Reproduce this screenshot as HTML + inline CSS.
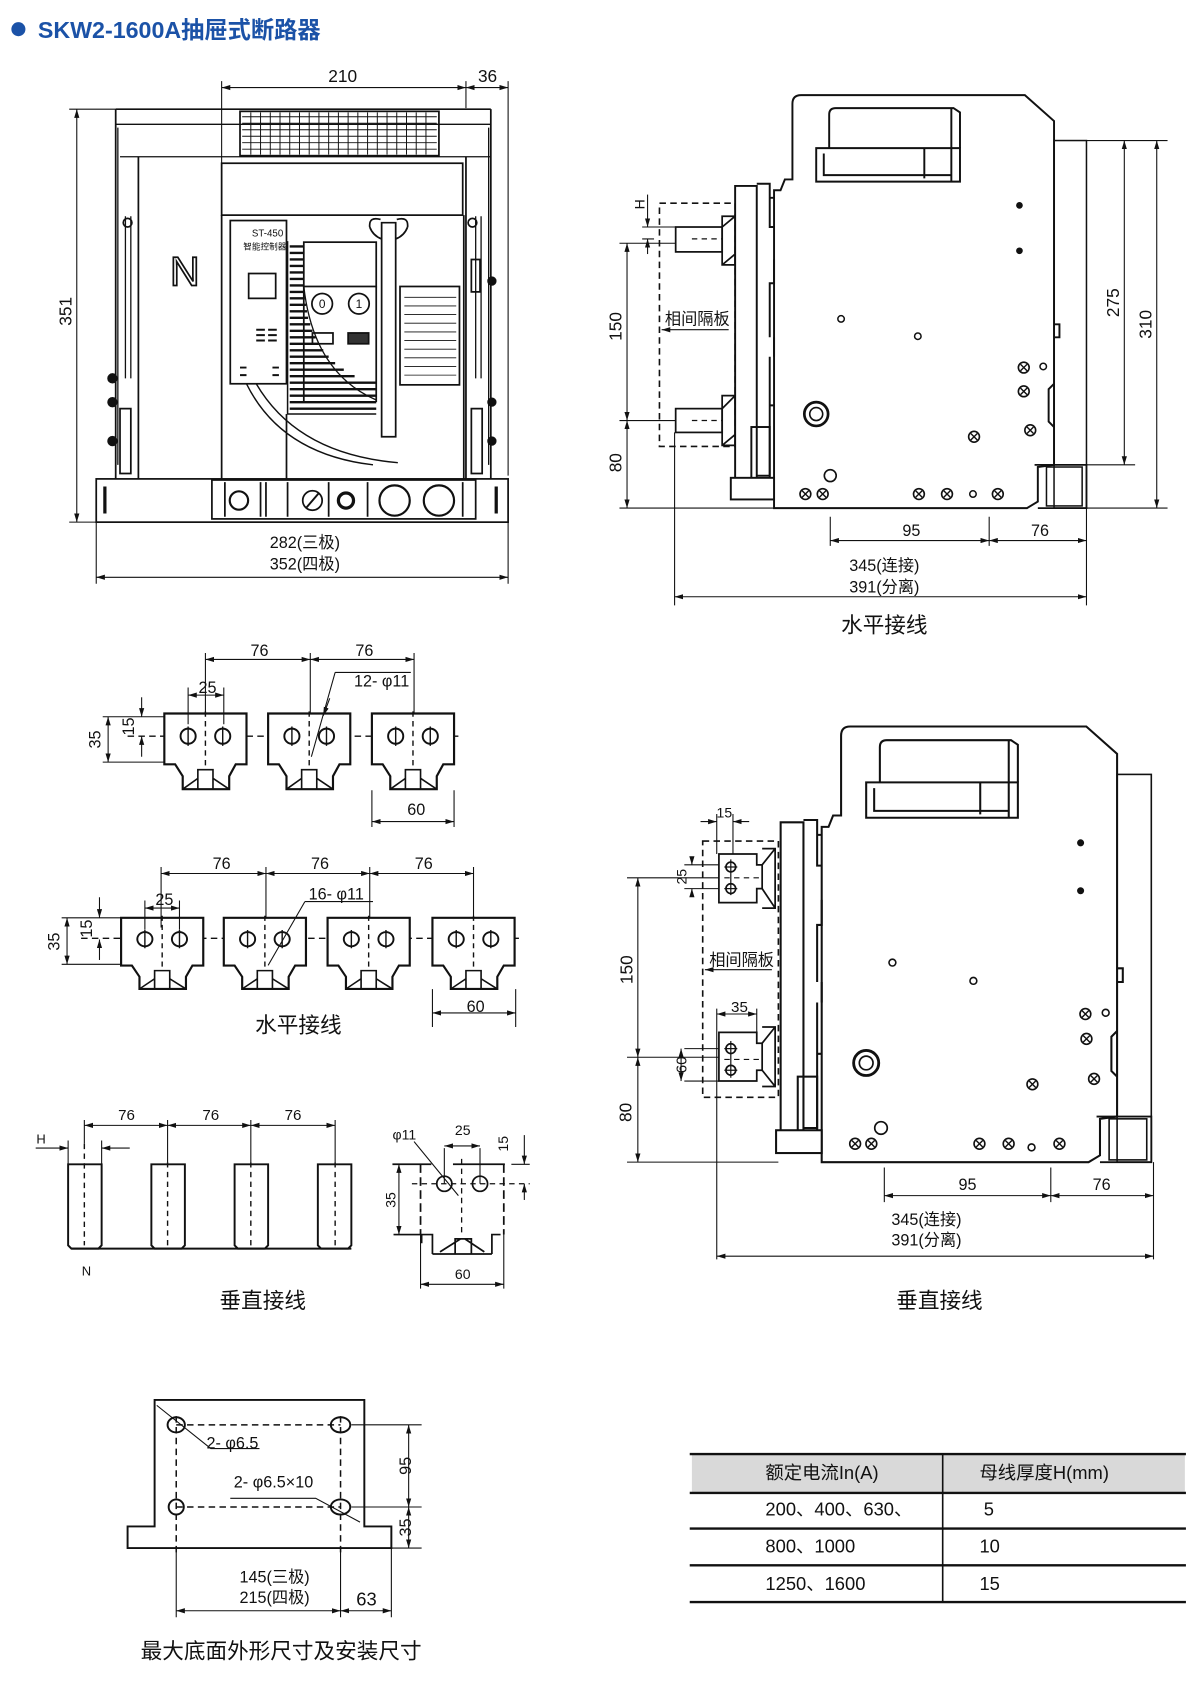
<!DOCTYPE html>
<html><head><meta charset="utf-8"><style>
html,body{margin:0;padding:0;background:#fff}
svg{display:block}
text{font-family:"Liberation Sans","Noto Sans CJK SC",sans-serif;fill:#111}
</style></head><body>
<svg width="1200" height="1698" viewBox="0 0 1110 1570.7" xmlns="http://www.w3.org/2000/svg">
<defs>
<marker id="a" viewBox="0 0 10 6" refX="10" refY="3" markerWidth="8" markerHeight="5" orient="auto-start-reverse" markerUnits="userSpaceOnUse"><path d="M0,0 L10,3 L0,6 Z" fill="#111"/></marker>
<g id="pc">
 <path d="M0,0 H76 V47 H66 L60,58 V70 H17 V58 L10,47 H0 Z" fill="#fff" stroke="#111" stroke-width="2"/>
 <path d="M31,70 V52 H45 V70 M17,70 L31,60 M60,70 L45,60" fill="none" stroke="#111" stroke-width="1.5"/>
 <line x1="38" y1="-2" x2="38" y2="52" stroke="#111" stroke-width="1.3" stroke-dasharray="5,4"/>
 <circle cx="22" cy="21" r="7" fill="none" stroke="#111" stroke-width="1.8"/>
 <circle cx="54" cy="21" r="7" fill="none" stroke="#111" stroke-width="1.8"/>
 <path d="M22,12 V30 M54,12 V30" stroke="#111" stroke-width="1.3"/>
</g>
<g id="sx"><circle r="5" fill="#fff" stroke="#111" stroke-width="1.5"/><path d="M-3,-3 L3,3 M3,-3 L-3,3" stroke="#111" stroke-width="1.3"/></g>
<g id="sb" fill="none" stroke="#111" stroke-width="1.8">
 <path d="M716,470 V176 H722 L726,166 H733 V96 Q733,88 741,88 H948 L975,112 V430 L960,432 V464 L950,470 Z" fill="#fff"/>
 <rect x="975" y="130" width="30" height="340" stroke-width="1.4"/>
 <path d="M957,430 H1005 V470 H960" stroke-width="1.6"/>
 <rect x="968" y="432" width="33" height="36" stroke-width="1.4"/>
 <path d="M767,137 V106 Q767,100 773,100 H882 L888,104 V137" fill="#fff"/>
 <path d="M755,168 V137 H888 V168 Z" fill="#fff"/>
 <path d="M762,142 V162 H880 M855,137 V165 M880,100 V168"/>
 <path d="M680,172 H700 V445 H680 Z" fill="#fff"/>
 <path d="M700,170 H712 V183 H716 M712,183 V210 H716 M716,240 V262 H712 V312 M716,312 V330 M712,330 V375 H716 M712,375 V440 H700"/>
 <rect x="695" y="395" width="17" height="48"/>
 <rect x="676" y="442" width="40" height="20" fill="#fff"/>
 <circle cx="943" cy="190" r="2.2" fill="#111"/><circle cx="943" cy="232" r="2.2" fill="#111"/>
 <circle cx="778" cy="295" r="3" stroke-width="1.4"/><circle cx="849" cy="311" r="3" stroke-width="1.4"/>
 <circle cx="965" cy="339" r="3" stroke-width="1.4"/>
 <circle cx="768" cy="440" r="5.5" stroke-width="1.5"/>
 <circle cx="755" cy="383" r="11" stroke-width="2.5"/><circle cx="755" cy="383" r="6" stroke-width="1.5"/>
 <circle cx="900" cy="457" r="3" stroke-width="1.4"/>
 <path d="M975,355 L970,360 V390 L975,395 M975,300 h5 v12 h-5"/>
</g>
</defs>

<!-- Title -->
<circle cx="17" cy="27" r="6.5" fill="#1b52a7"/>
<text x="35" y="35" font-size="21.5" font-weight="bold" style="fill:#1b52a7">SKW2-1600A抽屉式断路器</text>

<!-- ===== FRONT VIEW ===== -->
<g fill="none" stroke="#111" stroke-width="1.6">
 <rect x="89" y="443" width="381" height="40" fill="#fff"/>
 <path d="M107,101 H454 M107,101 V443 M454,101 V443 M128,145 V443 M431,145 V443"/>
 <path d="M107,115 H454 M111,145 H454 M109,118 V430 M452,118 V430" stroke-width="1.2"/>
 <rect x="222" y="103" width="184" height="41" stroke-width="1.6"/>
 <g stroke-width="0.9">
  <path d="M224,108 H404 M224,114 H404 M224,120 H404 M224,126 H404 M224,132 H404 M224,138 H404"/>
  <path d="M232,104 V143 M241,104 V143 M250,104 V143 M259,104 V143 M268,104 V143 M277,104 V143 M286,104 V143 M295,104 V143 M304,104 V143 M313,104 V143 M322,104 V143 M331,104 V143 M340,104 V143 M349,104 V143 M358,104 V143 M367,104 V143 M376,104 V143 M385,104 V143 M394,104 V143"/>
 </g>
 <rect x="205" y="151" width="223" height="48"/>
 <path d="M205,199 V443 M429,199 V443"/>
 <rect x="213" y="204" width="52" height="151"/>
 <rect x="230" y="253" width="25" height="23"/>
 <path d="M237,305 h8 M248,305 h8 M237,310 h8 M248,310 h8 M237,315 h8 M248,315 h8 M222,340 h6 M252,340 h6 M222,347 h6 M252,347 h6" stroke-width="1.8"/>
 <rect x="281" y="224" width="67" height="41"/>
 <path d="M281,265 V372 M348,265 V372"/>
 <path d="M266,223 V383 H348" stroke-width="1.4"/>
 <path d="M268,228 h13 M268,234 h13 M268,240 h13 M268,246 h13 M268,252 h13 M268,258 h13 M268,264 h13 M268,270 h14 M268,276 h14 M268,282 h15 M268,288 h16 M268,294 h17 M268,300 h19 M268,306 h21 M268,312 h24 M268,318 h27 M268,324 h31 M268,330 h36 M268,336 h42 M268,342 h50 M268,348 h60 M268,354 h80 M268,360 h80 M268,366 h80 M268,372 h80 M268,378 h80" stroke-width="2.2"/>
 <path d="M281,265 Q290,345 348,370" stroke-width="1.2"/>
 <circle cx="298" cy="281" r="9.5"/><circle cx="332" cy="281" r="9.5"/>
 <rect x="289" y="308" width="19" height="10"/>
 <rect x="322" y="308" width="19" height="10" fill="#333"/>
 <path d="M353,206 H366 V404 H353 Z" fill="#fff"/>
 <path d="M342,210 Q341,200 352,203 M377,210 Q378,200 367,203 M342,210 Q345,218 353,221 M377,210 Q374,218 366,221"/>
 <rect x="370" y="265" width="55" height="91"/>
 <g stroke-width="0.8"><path d="M374,275 h48 M374,283 h48 M374,291 h48 M374,299 h48 M374,307 h48 M374,315 h48 M374,323 h48 M374,331 h48 M374,339 h48 M374,347 h48"/></g>
 <path d="M228,355 Q260,420 345,430" stroke-width="1.3"/>
 <path d="M237,355 Q275,420 368,428" stroke-width="1.3"/>
 <path d="M265,383 V443" />
 <rect x="196" y="444" width="244" height="36" fill="#fff"/>
 <path d="M208,446 V478 M241,446 V478 M246,446 V478 M266,446 V478 M304,446 V478 M340,446 V478 M428,446 V478"/>
 <circle cx="221" cy="463" r="8.5" stroke-width="2"/>
 <circle cx="289" cy="463" r="9" stroke-width="1.6"/><path d="M283,470 L295,456" stroke-width="1.8"/>
 <circle cx="320" cy="463" r="7" stroke-width="3"/>
 <circle cx="365" cy="463" r="14" stroke-width="2"/><circle cx="406" cy="463" r="14" stroke-width="2"/>
 <path d="M97,450 V475 M459,450 V475" stroke-width="3"/>
 <path d="M116,200 v150 M121,200 v150 M440,200 v150 M445,200 v150" stroke-width="1.2"/>
 <circle cx="118" cy="206" r="4"/><circle cx="437" cy="206" r="4"/>
 <circle cx="104" cy="350" r="4" fill="#111"/><circle cx="104" cy="372" r="4" fill="#111"/><circle cx="104" cy="408" r="4" fill="#111"/>
 <circle cx="455" cy="260" r="3.5" fill="#111"/><circle cx="455" cy="372" r="3.5" fill="#111"/><circle cx="455" cy="408" r="3.5" fill="#111"/>
 <path d="M111,378 h10 v60 h-10 Z M436,378 h10 v60 h-10 Z M436,240 h8 v30 h-8 Z"/>
</g>
<text x="171" y="264" font-size="38" text-anchor="middle" style="fill:#fff;stroke:#111;stroke-width:1.6">N</text>
<text x="233" y="219" font-size="9">ST-450</text>
<text x="225" y="231" font-size="8">智能控制器</text>
<text x="298" y="285" font-size="11" text-anchor="middle">0</text>
<text x="332" y="285" font-size="11" text-anchor="middle">1</text>
<!-- front dims -->
<g stroke="#111" stroke-width="1" fill="none">
 <path d="M205,75 V200 M431,75 V100 M470,75 V440 M64,101 H107 M64,483 H90 M89,483 V540 M470,483 V540"/>
 <line x1="205" y1="81" x2="431" y2="81" marker-start="url(#a)" marker-end="url(#a)"/>
 <line x1="431" y1="81" x2="470" y2="81" marker-start="url(#a)" marker-end="url(#a)"/>
 <line x1="71" y1="101" x2="71" y2="483" marker-start="url(#a)" marker-end="url(#a)"/>
 <line x1="89" y1="534" x2="470" y2="534" marker-start="url(#a)" marker-end="url(#a)"/>
</g>
<text x="317" y="76" font-size="16" text-anchor="middle">210</text>
<text x="451" y="76" font-size="16" text-anchor="middle">36</text>
<text x="66" y="288" font-size="16" text-anchor="middle" transform="rotate(-90 66 288)">351</text>
<text x="282" y="507" font-size="15" text-anchor="middle">282(三极)</text>
<text x="282" y="527" font-size="15" text-anchor="middle">352(四极)</text>

<!-- ===== SIDE VIEW TOP ===== -->
<use href="#sb"/>
<g fill="none" stroke="#111" stroke-width="1.6">
 <rect x="625" y="210" width="43" height="23" fill="#fff"/>
 <rect x="625" y="378" width="43" height="22" fill="#fff"/>
 <path d="M668,200 H680 V245 H668 Z M668,366 H680 V412 H668 Z M668,210 L680,200 M668,245 L680,235 M668,378 L680,366 M668,412 L680,402"/>
 <path d="M640,221 H668 M640,389 H668" stroke-dasharray="5,4" stroke-width="1.2"/>
 <rect x="610" y="188" width="70" height="225" stroke-dasharray="6,4" stroke-width="1.5"/>
</g>
<use href="#sx" x="745" y="457"/><use href="#sx" x="761" y="457"/><use href="#sx" x="850" y="457"/><use href="#sx" x="876" y="457"/><use href="#sx" x="923" y="457"/>
<use href="#sx" x="947" y="340"/><use href="#sx" x="947" y="362"/><use href="#sx" x="953" y="398"/><use href="#sx" x="901" y="404"/>
<g stroke="#111" stroke-width="1" fill="none">
 <path d="M573,225 H625 M573,389 H625 M573,470 H716 M594,210 H625 M594,221 H605 M1005,130 H1080 M975,430 H1050 M1005,470 H1080 M768,478 V505 M915,478 V505 M1005,470 V560 M624,400 V560"/>
 <line x1="599" y1="180" x2="599" y2="210" marker-end="url(#a)"/>
 <line x1="599" y1="235" x2="599" y2="221" marker-end="url(#a)"/>
 <line x1="580" y1="225" x2="580" y2="389" marker-start="url(#a)" marker-end="url(#a)"/>
 <line x1="580" y1="389" x2="580" y2="470" marker-start="url(#a)" marker-end="url(#a)"/>
 <line x1="1040" y1="130" x2="1040" y2="430" marker-start="url(#a)" marker-end="url(#a)"/>
 <line x1="1070" y1="130" x2="1070" y2="470" marker-start="url(#a)" marker-end="url(#a)"/>
 <line x1="768" y1="500" x2="915" y2="500" marker-start="url(#a)" marker-end="url(#a)"/>
 <line x1="915" y1="500" x2="1005" y2="500" marker-start="url(#a)" marker-end="url(#a)"/>
 <line x1="624" y1="552" x2="1005" y2="552" marker-start="url(#a)" marker-end="url(#a)"/>
 <line x1="674" y1="305" x2="612" y2="305" marker-end="url(#a)"/>
</g>
<text x="596" y="189" font-size="13" text-anchor="middle" transform="rotate(-90 596 189)">H</text>
<text x="575" y="302" font-size="16" text-anchor="middle" transform="rotate(-90 575 302)">150</text>
<text x="575" y="428" font-size="16" text-anchor="middle" transform="rotate(-90 575 428)">80</text>
<text x="1035" y="280" font-size="16" text-anchor="middle" transform="rotate(-90 1035 280)">275</text>
<text x="1065" y="300" font-size="16" text-anchor="middle" transform="rotate(-90 1065 300)">310</text>
<text x="645" y="300" font-size="15" text-anchor="middle">相间隔板</text>
<text x="843" y="496" font-size="15" text-anchor="middle">95</text>
<text x="962" y="496" font-size="15" text-anchor="middle">76</text>
<text x="818" y="528" font-size="15" text-anchor="middle">345(连接)</text>
<text x="818" y="548" font-size="15" text-anchor="middle">391(分离)</text>
<text x="818" y="585" font-size="20" text-anchor="middle">水平接线</text>

<!-- ===== BUSBAR 3P ===== -->
<line x1="118" y1="681" x2="425" y2="681" stroke="#111" stroke-width="1.3" stroke-dasharray="6,4"/>
<use href="#pc" transform="translate(152,660)"/>
<use href="#pc" transform="translate(248,660)"/>
<use href="#pc" transform="translate(344,660)"/>
<g stroke="#111" stroke-width="1" fill="none">
 <path d="M190,604 V662 M287,604 V660 M383,604 V660 M174,636 V670 M207,636 V670 M95,705 H152 M95,663 H152 M344,731 V765 M420,731 V765 M310,622 H380 M310,622 L288,700"/>
 <line x1="190" y1="610" x2="287" y2="610" marker-start="url(#a)" marker-end="url(#a)"/>
 <line x1="287" y1="610" x2="383" y2="610" marker-start="url(#a)" marker-end="url(#a)"/>
 <line x1="174" y1="643" x2="207" y2="643" marker-start="url(#a)" marker-end="url(#a)"/>
 <line x1="100" y1="663" x2="100" y2="705" marker-start="url(#a)" marker-end="url(#a)"/>
 <line x1="131" y1="645" x2="131" y2="663" marker-end="url(#a)"/>
 <line x1="131" y1="700" x2="131" y2="681" marker-end="url(#a)"/>
 <line x1="344" y1="760" x2="420" y2="760" marker-start="url(#a)" marker-end="url(#a)"/>
 <line x1="299" y1="662" x2="305" y2="646" marker-start="url(#a)"/>
</g>
<text x="240" y="607" font-size="15" text-anchor="middle">76</text>
<text x="337" y="607" font-size="15" text-anchor="middle">76</text>
<text x="192" y="641" font-size="15" text-anchor="middle">25</text>
<text x="353" y="635" font-size="15" text-anchor="middle">12- φ11</text>
<text x="93" y="684" font-size="15" text-anchor="middle" transform="rotate(-90 93 684)">35</text>
<text x="124" y="672" font-size="15" text-anchor="middle" transform="rotate(-90 124 672)">15</text>
<text x="385" y="754" font-size="15" text-anchor="middle">60</text>

<!-- ===== BUSBAR 4P ===== -->
<line x1="75" y1="868" x2="480" y2="868" stroke="#111" stroke-width="1.3" stroke-dasharray="6,4"/>
<g transform="translate(0,2)">
<use href="#pc" transform="translate(112,847) scale(1,0.94)"/>
<use href="#pc" transform="translate(207,847) scale(1,0.94)"/>
<use href="#pc" transform="translate(303,847) scale(1,0.94)"/>
<use href="#pc" transform="translate(400,847) scale(1,0.94)"/>
</g>
<g stroke="#111" stroke-width="1" fill="none">
 <path d="M149,802 V858 M246,802 V849 M342,802 V849 M438,802 V849 M134,833 V860 M166,833 V860 M57,892 H112 M57,849 H112 M400,915 V950 M477,915 V950 M282,834 H345 M282,834 L248,893"/>
 <line x1="149" y1="808" x2="246" y2="808" marker-start="url(#a)" marker-end="url(#a)"/>
 <line x1="246" y1="808" x2="342" y2="808" marker-start="url(#a)" marker-end="url(#a)"/>
 <line x1="342" y1="808" x2="438" y2="808" marker-start="url(#a)" marker-end="url(#a)"/>
 <line x1="134" y1="840" x2="166" y2="840" marker-start="url(#a)" marker-end="url(#a)"/>
 <line x1="62" y1="849" x2="62" y2="892" marker-start="url(#a)" marker-end="url(#a)"/>
 <line x1="92" y1="830" x2="92" y2="849" marker-end="url(#a)"/>
 <line x1="92" y1="888" x2="92" y2="869" marker-end="url(#a)"/>
 <line x1="400" y1="937" x2="477" y2="937" marker-start="url(#a)" marker-end="url(#a)"/>
</g>
<text x="205" y="804" font-size="15" text-anchor="middle">76</text>
<text x="296" y="804" font-size="15" text-anchor="middle">76</text>
<text x="392" y="804" font-size="15" text-anchor="middle">76</text>
<text x="152" y="837" font-size="15" text-anchor="middle">25</text>
<text x="311" y="832" font-size="15" text-anchor="middle">16- φ11</text>
<text x="55" y="871" font-size="15" text-anchor="middle" transform="rotate(-90 55 871)">35</text>
<text x="85" y="859" font-size="15" text-anchor="middle" transform="rotate(-90 85 859)">15</text>
<text x="440" y="936" font-size="15" text-anchor="middle">60</text>
<text x="276" y="955" font-size="20" text-anchor="middle">水平接线</text>

<!-- ===== VERTICAL BARS ===== -->
<g fill="none" stroke="#111" stroke-width="1.8">
 <path d="M66,1155 H325"/>
 <path d="M63,1077 H94 V1152 L91,1155 H66 L63,1152 Z M140,1077 H171 V1152 L168,1155 H143 L140,1152 Z M217,1077 H248 V1152 L245,1155 H220 L217,1152 Z M294,1077 H325 V1152 L322,1155 H297 L294,1152 Z"/>
</g>
<g fill="none" stroke="#111" stroke-width="1.3" stroke-dasharray="5,4">
 <path d="M78,1058 V1152 M155,1075 V1152 M232,1075 V1152 M310,1075 V1152"/>
</g>
<g stroke="#111" stroke-width="1" fill="none">
 <path d="M78,1036 V1058 M155,1036 V1075 M232,1036 V1075 M310,1036 V1075 M63,1055 V1077 M94,1055 V1077"/>
 <line x1="78" y1="1041" x2="155" y2="1041" marker-start="url(#a)" marker-end="url(#a)"/>
 <line x1="155" y1="1041" x2="232" y2="1041" marker-start="url(#a)" marker-end="url(#a)"/>
 <line x1="232" y1="1041" x2="310" y2="1041" marker-start="url(#a)" marker-end="url(#a)"/>
 <line x1="33" y1="1062" x2="63" y2="1062" marker-end="url(#a)"/>
 <line x1="120" y1="1062" x2="94" y2="1062" marker-end="url(#a)"/>
</g>
<text x="117" y="1036" font-size="14" text-anchor="middle">76</text>
<text x="195" y="1036" font-size="14" text-anchor="middle">76</text>
<text x="271" y="1036" font-size="14" text-anchor="middle">76</text>
<text x="38" y="1058" font-size="12" text-anchor="middle">H</text>
<text x="80" y="1180" font-size="12" text-anchor="middle">N</text>
<text x="243" y="1210" font-size="20" text-anchor="middle">垂直接线</text>

<!-- small vertical detail -->
<g fill="none" stroke="#111" stroke-width="1.6">
 <path d="M363,1077 H399 M419,1077 H467 M364,1142 H390 V1150 M390,1142 H400 V1160 M463,1142 H455 V1160 M400,1160 H455 M407,1158 L426,1146 M448,1158 L430,1146 M421,1160 V1146 H436 V1160"/>
 <path d="M389,1077 V1142 M466,1077 V1142" stroke-dasharray="8,4"/>
 <circle cx="411" cy="1095" r="7"/><circle cx="444" cy="1095" r="7"/>
 <path d="M381,1095 H490 M427,1072 V1142" stroke-width="1.2" stroke-dasharray="5,4"/>
</g>
<g stroke="#111" stroke-width="1" fill="none">
 <path d="M411,1062 V1095 M444,1062 V1095 M389,1142 V1192 M466,1142 V1192 M473,1077 H490 M365,1142 H390 M383,1056 L424,1106"/>
 <line x1="411" y1="1060" x2="444" y2="1060" marker-start="url(#a)" marker-end="url(#a)"/>
 <line x1="369" y1="1077" x2="369" y2="1142" marker-start="url(#a)" marker-end="url(#a)"/>
 <line x1="485" y1="1050" x2="485" y2="1077" marker-end="url(#a)"/>
 <line x1="485" y1="1110" x2="485" y2="1095" marker-end="url(#a)"/>
 <line x1="389" y1="1188" x2="466" y2="1188" marker-start="url(#a)" marker-end="url(#a)"/>
</g>
<text x="374" y="1054" font-size="13" text-anchor="middle">φ11</text>
<text x="428" y="1050" font-size="13" text-anchor="middle">25</text>
<text x="470" y="1058" font-size="13" text-anchor="middle" transform="rotate(-90 470 1058)">15</text>
<text x="366" y="1110" font-size="13" text-anchor="middle" transform="rotate(-90 366 1110)">35</text>
<text x="428" y="1183" font-size="13" text-anchor="middle">60</text>

<!-- ===== SIDE VIEW BOTTOM ===== -->
<use href="#sb" transform="translate(4.7,579.2) scale(1.055)"/>
<g fill="none" stroke="#111" stroke-width="1.6">
 <rect x="650" y="778" width="70" height="237" stroke-dasharray="6,4" stroke-width="1.5"/>
 <path d="M665,790 H700 V800 H705 V822 H700 V835 H665 Z M665,955 H700 V965 H705 V990 H700 V1000 H665 Z" fill="#fff"/>
 <path d="M705,785 H717 V840 H705 M705,950 H717 V1005 H705 M705,800 L717,785 M705,822 L717,840 M705,965 L717,950 M705,990 L717,1005"/>
 <circle cx="676" cy="802" r="4.5"/><circle cx="676" cy="822" r="4.5"/>
 <circle cx="676" cy="970" r="4.5"/><circle cx="676" cy="990" r="4.5"/>
 <path d="M676,795 V828 M670,802 H682 M670,822 H682 M676,963 V997 M670,970 H682 M670,990 H682" stroke-width="1.1"/>
 <path d="M670,812 H705 M670,980 H705" stroke-dasharray="5,4" stroke-width="1.1"/>
</g>
<use href="#sx" x="791" y="1058"/><use href="#sx" x="806" y="1058"/><use href="#sx" x="906" y="1058"/><use href="#sx" x="933" y="1058"/><use href="#sx" x="980" y="1058"/>
<use href="#sx" x="1004" y="938"/><use href="#sx" x="1005" y="961"/><use href="#sx" x="1012" y="998"/><use href="#sx" x="955" y="1003"/>
<g stroke="#111" stroke-width="1" fill="none">
 <path d="M580,812 H665 M580,978 H665 M580,1075 H720 M663,753 V790 M678,753 V790 M633,800 H665 M633,822 H665 M663,933 V1165 M700,933 V955 M633,970 H665 M633,1000 H665 M818,1080 V1112 M972,1080 V1112 M1067,1075 V1165"/>
 <line x1="648" y1="760" x2="663" y2="760" marker-end="url(#a)"/>
 <line x1="693" y1="760" x2="678" y2="760" marker-end="url(#a)"/>
 <line x1="640" y1="793" x2="640" y2="800" marker-end="url(#a)"/>
 <line x1="640" y1="829" x2="640" y2="822" marker-end="url(#a)"/>
 <line x1="590" y1="812" x2="590" y2="978" marker-start="url(#a)" marker-end="url(#a)"/>
 <line x1="590" y1="978" x2="590" y2="1075" marker-start="url(#a)" marker-end="url(#a)"/>
 <line x1="630" y1="970" x2="630" y2="1000" marker-start="url(#a)" marker-end="url(#a)"/>
 <line x1="663" y1="938" x2="700" y2="938" marker-start="url(#a)" marker-end="url(#a)"/>
 <line x1="714" y1="897" x2="652" y2="897" marker-end="url(#a)"/>
 <line x1="818" y1="1106" x2="972" y2="1106" marker-start="url(#a)" marker-end="url(#a)"/>
 <line x1="972" y1="1106" x2="1067" y2="1106" marker-start="url(#a)" marker-end="url(#a)"/>
 <line x1="663" y1="1162" x2="1067" y2="1162" marker-start="url(#a)" marker-end="url(#a)"/>
</g>
<text x="670" y="756" font-size="13" text-anchor="middle">15</text>
<text x="635" y="811" font-size="13" text-anchor="middle" transform="rotate(-90 635 811)">25</text>
<text x="585" y="897" font-size="16" text-anchor="middle" transform="rotate(-90 585 897)">150</text>
<text x="584" y="1029" font-size="16" text-anchor="middle" transform="rotate(-90 584 1029)">80</text>
<text x="635" y="985" font-size="14" text-anchor="middle" transform="rotate(-90 635 985)">60</text>
<text x="684" y="936" font-size="14" text-anchor="middle">35</text>
<text x="686" y="893" font-size="15" text-anchor="middle">相间隔板</text>
<text x="895" y="1101" font-size="15" text-anchor="middle">95</text>
<text x="1019" y="1101" font-size="15" text-anchor="middle">76</text>
<text x="857" y="1133" font-size="15" text-anchor="middle">345(连接)</text>
<text x="857" y="1152" font-size="15" text-anchor="middle">391(分离)</text>
<text x="869" y="1210" font-size="20" text-anchor="middle">垂直接线</text>

<!-- ===== MOUNTING ===== -->
<g fill="none" stroke="#111" stroke-width="1.8">
 <path d="M143,1295 H337 V1412 H362 V1432 H118 V1412 H143 Z"/>
 <ellipse cx="163" cy="1318" rx="8" ry="7"/><ellipse cx="315" cy="1318" rx="9" ry="7"/>
 <ellipse cx="163" cy="1394" rx="7" ry="7"/><ellipse cx="315" cy="1394" rx="9" ry="7"/>
 <path d="M163,1318 H315 M163,1394 H315 M163,1310 V1440 M315,1310 V1440" stroke-width="1.4" stroke-dasharray="6,4"/>
</g>
<g stroke="#111" stroke-width="1" fill="none">
 <path d="M325,1318 H390 M325,1394 H390 M362,1432 H390 M163,1432 V1496 M315,1432 V1496 M362,1432 V1496 M145,1300 L195,1340 H240 M213,1386 H292 L333,1408"/>
 <line x1="378" y1="1318" x2="378" y2="1394" marker-start="url(#a)" marker-end="url(#a)"/>
 <line x1="378" y1="1394" x2="378" y2="1432" marker-start="url(#a)" marker-end="url(#a)"/>
 <line x1="163" y1="1490" x2="315" y2="1490" marker-start="url(#a)" marker-end="url(#a)"/>
 <line x1="315" y1="1490" x2="362" y2="1490" marker-start="url(#a)" marker-end="url(#a)"/>
</g>
<text x="215" y="1340" font-size="15" text-anchor="middle">2- φ6.5</text>
<text x="253" y="1376" font-size="15" text-anchor="middle">2- φ6.5×10</text>
<text x="380" y="1356" font-size="15" text-anchor="middle" transform="rotate(-90 380 1356)">95</text>
<text x="380" y="1413" font-size="15" text-anchor="middle" transform="rotate(-90 380 1413)">35</text>
<text x="254" y="1464" font-size="15" text-anchor="middle">145(三极)</text>
<text x="254" y="1483" font-size="15" text-anchor="middle">215(四极)</text>
<text x="339" y="1485" font-size="17" text-anchor="middle">63</text>
<text x="260" y="1534" font-size="20" text-anchor="middle">最大底面外形尺寸及安装尺寸</text>

<!-- ===== TABLE ===== -->
<rect x="640" y="1345" width="456" height="36" fill="#d9d9d9"/>
<g stroke="#111" stroke-width="2.2">
 <line x1="638" y1="1345" x2="1097" y2="1345"/>
 <line x1="638" y1="1381" x2="1097" y2="1381"/>
 <line x1="638" y1="1414" x2="1097" y2="1414"/>
 <line x1="638" y1="1448" x2="1097" y2="1448"/>
 <line x1="638" y1="1482" x2="1097" y2="1482"/>
 <line x1="872" y1="1345" x2="872" y2="1482" stroke-width="1.5"/>
</g>
<text x="708" y="1368" font-size="17">额定电流In(A)</text>
<text x="906" y="1368" font-size="17">母线厚度H(mm)</text>
<text x="708" y="1402" font-size="17">200、400、630、</text>
<text x="910" y="1402" font-size="17">5</text>
<text x="708" y="1436" font-size="17">800、1000</text>
<text x="906" y="1436" font-size="17">10</text>
<text x="708" y="1471" font-size="17">1250、1600</text>
<text x="906" y="1471" font-size="17">15</text>
</svg>
</body></html>
